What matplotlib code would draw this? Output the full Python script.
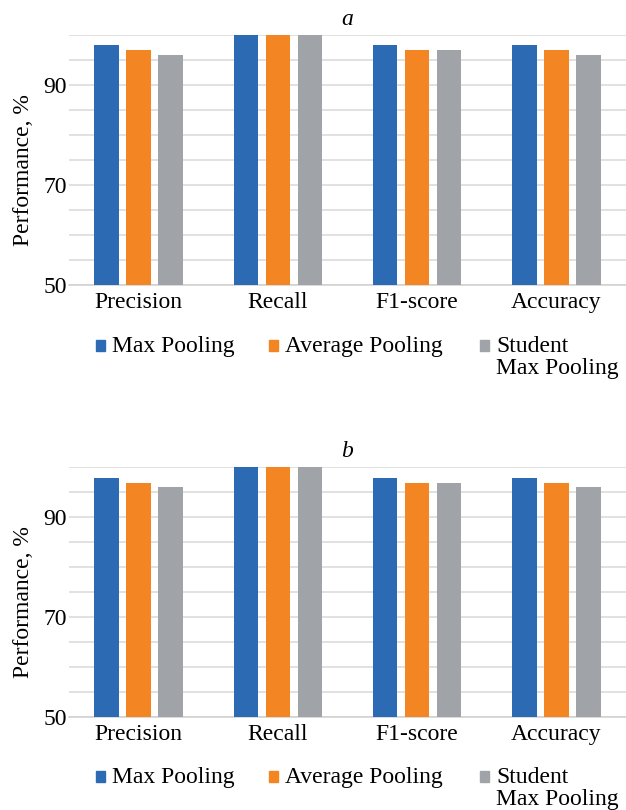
import numpy as np
import matplotlib.pyplot as plt
from matplotlib.patches import Rectangle

# Data
categories = ["Precision", "Recall", "F1-score", "Accuracy"]
series_names = ["Max Pooling", "Average Pooling", "Student\nMax Pooling"]
max_pool_a = [97.9, 100, 97.9, 97.9]
avg_pool_a = [96.9, 100, 96.9, 96.9]
student_a = [96.1, 100, 96.9, 96.1]
max_pool_b = [97.9, 100, 97.9, 97.9]
avg_pool_b = [96.9, 100, 96.9, 96.9]
student_b = [96.1, 100, 96.9, 96.1]
ytick_vals = list(range(50, 101, 5))
ytick_labels = ["50", "", "", "", "70", "", "", "", "90", "", ""]

colors = ["#2C6BB4", "#F38623", "#A0A3A7"]
serif = "Liberation Serif"
W, H = 626, 810

fig = plt.figure(figsize=(6.26, 8.10), dpi=100)


def panel(top_px, bottom_px, series, title, legend_base):
    rect = [69 / W, 1 - bottom_px / H, 557 / W, (bottom_px - top_px) / H]
    ax = fig.add_axes(rect)
    x = np.arange(len(categories))
    offsets = [-0.23, 0.0, 0.23]
    for vals, off, c in zip(series, offsets, colors):
        ax.bar(x + off, np.array(vals) - 50, bottom=50, width=0.175, color=c, zorder=3)
    ax.set_xlim(-0.5, 3.5)
    ax.set_ylim(50, 100)
    ax.set_yticks(ytick_vals)
    ax.set_yticklabels(ytick_labels, fontfamily=serif, fontsize=17)
    ax.set_xticks(x)
    ax.set_xticklabels(categories, fontfamily=serif, fontsize=17)
    ax.tick_params(length=0, axis="y", pad=1.5)
    ax.tick_params(length=0, axis="x", pad=5)
    ax.grid(axis="y", color="#D9D9D9", linewidth=1.1, zorder=0)
    for s in ["left", "right", "top"]:
        ax.spines[s].set_visible(False)
    ax.spines["bottom"].set_color("#D0D0D0")
    ax.spines["bottom"].set_linewidth(1.1)
    ax.set_title(title, fontfamily=serif, style="italic", fontsize=17, pad=7)
    # y label
    fig.text(24 / W, 1 - (top_px + (bottom_px - top_px) * 0.54) / H, "Performance, %",
             rotation=90, ha="center", va="center", fontfamily=serif, fontsize=17)
    # legend
    marker_x = [96, 269, 480]
    for name, c, mx in zip(series_names, colors, marker_x):
        fig.patches.append(Rectangle((mx / W, 1 - (legend_base - 1) / H), 9 / W, 11 / H,
                                     transform=fig.transFigure, color=c, figure=fig))
        for i, line in enumerate(name.split("\n")):
            fig.text((mx + 16) / W, 1 - (legend_base + 22 * i) / H, line, ha="left",
                     va="baseline", fontfamily=serif, fontsize=17)
    return ax


panel(35, 285, [max_pool_a, avg_pool_a, student_a], "a", 352)
panel(467, 717, [max_pool_b, avg_pool_b, student_b], "b", 783)

fig.savefig("out.png", dpi=100)
